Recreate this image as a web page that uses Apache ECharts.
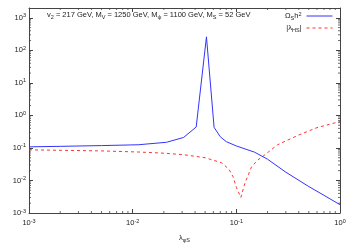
<!DOCTYPE html>
<html>
<head>
<meta charset="utf-8">
<script src="https://cdn.jsdelivr.net/npm/echarts@6/dist/echarts.min.js"></script>
<style>html,body{margin:0;padding:0;background:#fff}#c{width:354px;height:248px}</style>
</head>
<body>
<div id="c"></div>
<script>
// ---- data ----
const omegaLambda = [0.001, 0.002, 0.005, 0.0113, 0.0212, 0.031, 0.041, 0.0515, 0.061, 0.07, 0.08, 0.1, 0.15, 0.2, 0.3, 0.5, 0.7, 1.0];
const omegaValues = [0.108, 0.112, 0.118, 0.125, 0.149, 0.21, 0.44, 260, 0.43, 0.22, 0.156, 0.115, 0.074, 0.045, 0.018, 0.0065, 0.0035, 0.0018];

const lamHSLambda = [0.001, 0.005, 0.0113, 0.02, 0.031, 0.05, 0.072, 0.085, 0.093, 0.1, 0.1105, 0.121, 0.14, 0.16, 0.18, 0.25, 0.4, 0.6, 1.0];
const lamHSValues = [0.0875, 0.081, 0.075, 0.069, 0.062, 0.05, 0.035, 0.022, 0.013, 0.0062, 0.003, 0.0082, 0.026, 0.042, 0.055, 0.125, 0.25, 0.42, 0.65];

const xDecades = [0.001, 0.01, 0.1];
const yDecades = [0.001, 0.01, 0.1, 1, 10, 100];
const mantissas = [2, 3, 4, 5, 6, 7, 8, 9];

const X_MIN = 0.001, X_MAX = 1;
const Y_MIN = 0.001, Y_MAX = 2000;

const xMinor = [];
xDecades.forEach(d => mantissas.forEach(m => xMinor.push([m * d, Y_MIN])));
const yMinor = [];
yDecades.forEach(d => mantissas.forEach(m => yMinor.push([X_MIN, m * d])));

const FONT = 'Liberation Sans';
const TXT = '#222';
const AX = '#444';

const base = {fontFamily: FONT, color: TXT, fontWeight: 'normal'};
const rich = {
  b: Object.assign({fontSize: 7.5, lineHeight: 10}, base),
  s: Object.assign({fontSize: 5.5, lineHeight: 6, verticalAlign: 'top'}, base),
  n: Object.assign({fontSize: 7.5, lineHeight: 10}, base),
  sub: Object.assign({fontSize: 5.5, lineHeight: 6, verticalAlign: 'bottom'}, base),
  sup: Object.assign({fontSize: 5.5, lineHeight: 6, verticalAlign: 'top'}, base)
};

function powLabel(v) {
  const e = Math.log10(v);
  if (Math.abs(e - Math.round(e)) > 1e-6) return '';
  return '{b|10}{s|' + Math.round(e) + '}';
}

function tickRender(isX) {
  return function (params, api) {
    const v = api.value(isX ? 0 : 1);
    let p1, p2, c;
    if (isX) {
      p1 = api.coord([v, Y_MIN]); p2 = api.coord([v, Y_MAX]);
      c = [{x1: p1[0], y1: p1[1], x2: p1[0], y2: p1[1] - 2}, {x1: p2[0], y1: p2[1], x2: p2[0], y2: p2[1] + 2}];
    } else {
      p1 = api.coord([X_MIN, v]); p2 = api.coord([X_MAX, v]);
      c = [{x1: p1[0], y1: p1[1], x2: p1[0] + 2, y2: p1[1]}, {x1: p2[0], y1: p2[1], x2: p2[0] - 2, y2: p2[1]}];
    }
    return {type: 'group', children: c.map(s => ({type: 'line', shape: s, style: {stroke: AX, lineWidth: 0.8}}))};
  };
}

const commonX = {type: 'log', min: X_MIN, max: X_MAX, logBase: 10,
  axisLine: {show: true, lineStyle: {color: AX, width: 1}},
  axisTick: {show: true, inside: true, length: 4, lineStyle: {color: AX}},
  splitLine: {show: false}};
const commonY = {type: 'log', min: Y_MIN, max: Y_MAX, logBase: 10,
  axisLine: {show: true, lineStyle: {color: AX, width: 1}},
  axisTick: {show: true, inside: true, length: 4, lineStyle: {color: AX}},
  splitLine: {show: false}};

const chart = echarts.init(document.getElementById('c'), null, {renderer: 'canvas'});
chart.setOption({
  animation: false,
  backgroundColor: '#fff',
  grid: {left: 29, right: 14, top: 8, bottom: 31, containLabel: false},
  title: {
    text: '{n|v}{sub|2}{n| = 217 GeV, M}{sub|V}{n| = 1250 GeV, M}{sub|ψ}{n| = 1100 GeV, M}{sub|S}{n| = 52 GeV}',
    left: 47, top: 10, padding: 0,
    textStyle: {fontWeight: 'normal', rich: rich}
  },
  legend: {
    orient: 'vertical', right: 21, top: 11, padding: 0,
    align: 'right', itemWidth: 26, itemHeight: 8, itemGap: 3,
    data: ['omega', 'lamhs'],
    itemStyle: {opacity: 0},
    lineStyle: {width: 1},
    formatter: function (name) {
      return name === 'omega' ? '{n|Ω}{sub|S}{n|h}{sup|2}' : '{n||λ}{sub|HS}{n||}';
    },
    textStyle: {rich: rich}
  },
  xAxis: [
    Object.assign({}, commonX, {position: 'bottom',
      axisLabel: {show: true, margin: 5, formatter: powLabel, rich: rich},
      name: '{n|λ}{sub|φS}', nameLocation: 'middle', nameGap: 20, nameTextStyle: {rich: rich}}),
    Object.assign({}, commonX, {position: 'top', axisLabel: {show: false}})
  ],
  yAxis: [
    Object.assign({}, commonY, {position: 'left',
      axisLabel: {show: true, margin: 3, formatter: powLabel, rich: rich}}),
    Object.assign({}, commonY, {position: 'right', axisLabel: {show: false}})
  ],
  series: [
    {name: 'omega', type: 'line', symbol: 'none', xAxisIndex: 0, yAxisIndex: 0,
      data: omegaLambda.map((x, i) => [x, omegaValues[i]]),
      lineStyle: {color: '#3333ff', width: 1}, itemStyle: {color: '#3333ff'}, z: 3},
    {name: 'lamhs', type: 'line', symbol: 'none', xAxisIndex: 0, yAxisIndex: 0,
      data: lamHSLambda.map((x, i) => [x, lamHSValues[i]]),
      lineStyle: {color: '#ff3333', width: 1, type: [3, 3]}, itemStyle: {color: '#ff3333'}, z: 2},
    {type: 'custom', xAxisIndex: 0, yAxisIndex: 0, silent: true, data: xMinor, renderItem: tickRender(true), z: 1},
    {type: 'custom', xAxisIndex: 0, yAxisIndex: 0, silent: true, data: yMinor, renderItem: tickRender(false), z: 1}
  ]
});
</script>
</body>
</html>
